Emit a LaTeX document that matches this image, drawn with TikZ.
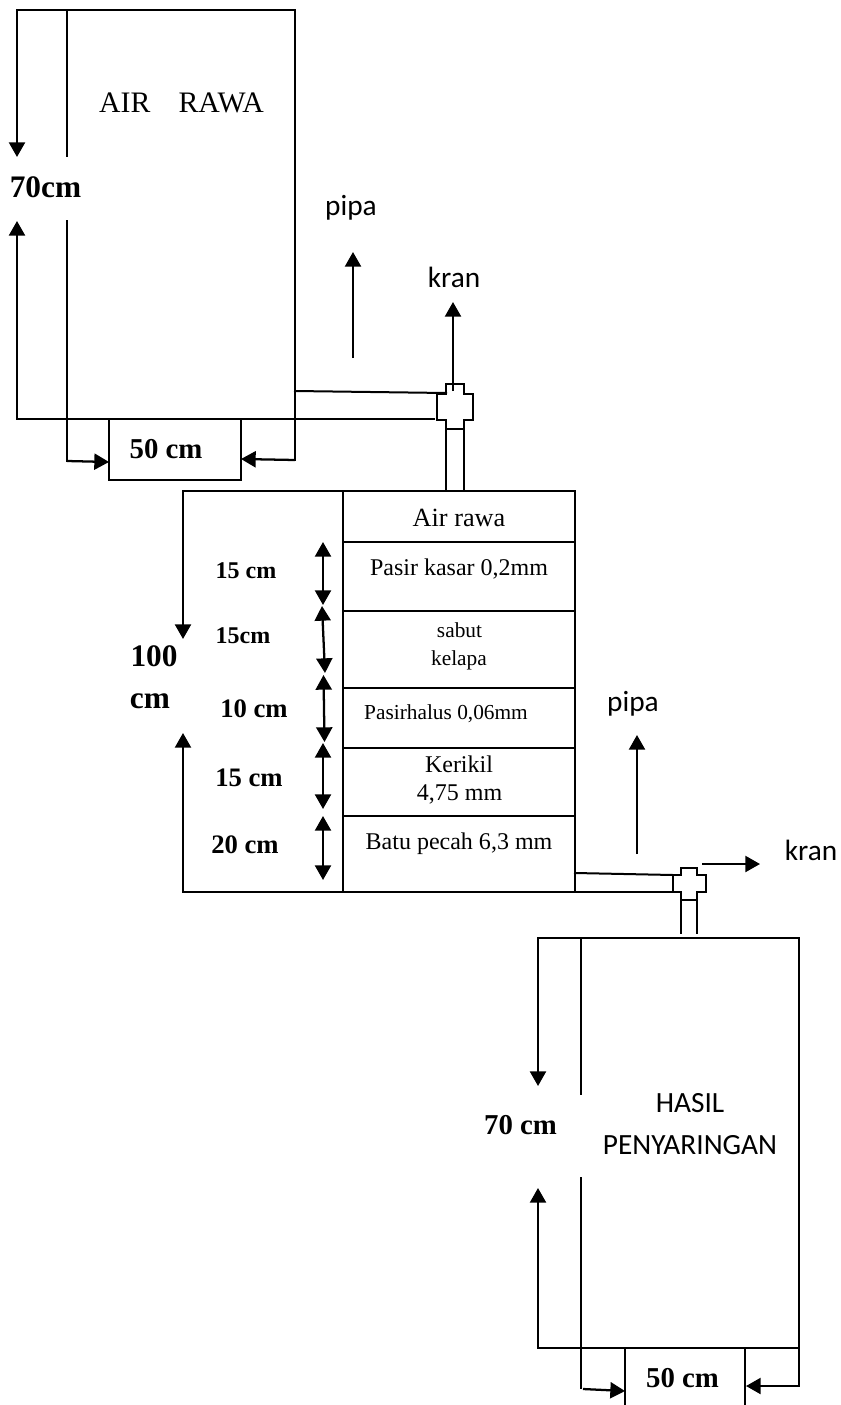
\documentclass[tikz,border=0pt]{standalone}
\usepackage{fontspec}
\setmainfont{Liberation Serif}
\newfontfamily\carlito{Carlito}
\usetikzlibrary{arrows.meta}
\newcommand{\fsz}[1]{\fontsize{#1}{#1}\selectfont}
\tikzset{
  ln/.style={line width=1.5pt,line cap=rect},
  thin ln/.style={line width=1.2pt},
  arr/.style={line width=1.7pt,-{Triangle[length=11pt,width=12pt]}},
  darr/.style={line width=1.7pt,{Triangle[length=11pt,width=12pt]}-{Triangle[length=11pt,width=12pt]}},
  txt/.style={inner sep=0pt,anchor=base},
  sans/.style={txt,font=\carlito\fsz{22}},
  dimA/.style={txt,font=\bfseries\fsz{18}},
  dimB/.style={txt,font=\bfseries\fsz{20}},
  dimC/.style={txt,font=\bfseries\fsz{21.6}},
  dimD/.style={txt,font=\bfseries\fsz{23.5}},
  layA/.style={txt,font=\fsz{18}},
  layB/.style={txt,font=\fsz{16}},
}
\begin{document}
\begin{tikzpicture}[x=0.75pt,y=-0.75pt]
\useasboundingbox (0,0) rectangle (840,1405);
% coordinates
\foreach \n/\x/\y in {
 ta/17/10, tb/67/10, tc/295/10, td/17/419, te/67/419, tf/295/419,
 tg/67/156, th/67/221, ti/17/157, tj/17/221, tk/67/461, tl/109/462, tm/295/460, tn/241/459,
 b1/109/419, b2/241/480,
 p1/295/391, p2/446/393, p3/435/419,
 k1/453/391, k2/453/302, k3/353/358, k4/353/252,
 q1/446/429, q2/446/491, q3/464/429, q4/464/491,
 m1/183/491, m2/343/491, m3/575/491, m4/183/892, m5/343/892, m6/575/892,
 m7/183/639, m8/183/733,
 d1a/323/542, d1b/323/605, d2a/322/606, d2b/325/673, d3a/323.5/675, d3b/324.5/742,
 d4a/323/743, d4b/323/809, d5a/323/816, d5b/323/880,
 r1/575/873, r2/673/875, r3/673/892,
 s1/681/900, s2/681/933, s3/697/900, s4/697/933,
 k5/702/864, k6/760/864, k7/637/854, k8/637/735,
 ba/538/938, bb/581/938, bc/799/938, bd/538/1348, be/581/1348, bf/799/1348,
 bg/581/1094, bh/581/1178, bi/538/1086, bj/538/1188,
 bk/581/1388, bl/583/1389, bm/625/1391, bn/799/1386, bo/746/1386,
 bp/625/1348, bq/625/1405, br/745/1348, bs/745/1405}
 {\coordinate (\n) at (\x,\y);}
% top tank
\draw[ln] (ta) -- (tc) -- (tm);
\draw[ln] (td) -- (tf);
\draw[ln] (tb) -- (tg);
\draw[ln] (th) -- (tk);
\draw[arr] (ta) -- (ti);
\draw[arr] (td) -- (tj);
\draw[ln] (b1) rectangle (b2);
\draw[arr] (tk) -- (tl);
\draw[arr] (tm) -- (tn);
% top pipe and cross
\draw[ln] (p1) -- (p2);
\draw[thin ln] (tf) -- (p3);
\draw[ln] (446,394) -- (446,384) -- (464,384) -- (464,394) -- (473,394) -- (473,420) -- (464,420) -- (464,429) -- (446,429) -- (446,420) -- (437,420) -- (437,394) -- cycle;
\draw[ln] (q1) -- (q2);
\draw[thin ln] (q3) -- (q4);
\draw[arr] (k1) -- (k2);
\draw[arr] (k3) -- (k4);
% filter column
\draw[ln] (m1) -- (m3) -- (m6) -- (m4);
\draw[ln] (m2) -- (m5);
\foreach \y in {542,611,688,748,816} \draw[ln] (343,\y) -- (575,\y);
\draw[arr] (m1) -- (m7);
\draw[arr] (m4) -- (m8);
\foreach \a/\b in {d1a/d1b,d2a/d2b,d3a/d3b,d4a/d4b,d5a/d5b} \draw[darr] (\a) -- (\b);
% lower pipe and cross
\draw[ln] (r1) -- (r2);
\draw[ln] (m6) -- (r3);
\draw[ln] (681,875) -- (681,868) -- (697,868) -- (697,875) -- (706,875) -- (706,892) -- (697,892) -- (697,900) -- (681,900) -- (681,892) -- (673,892) -- (673,875) -- cycle;
\draw[ln] (s1) -- (s2);
\draw[ln] (s3) -- (s4);
\draw[arr] (k5) -- (k6);
\draw[arr] (k7) -- (k8);
% bottom tank
\draw[ln] (ba) -- (bc) -- (bn);
\draw[ln] (bd) -- (bf);
\draw[ln] (bb) -- (bg);
\draw[ln] (bh) -- (bk);
\draw[arr] (ba) -- (bi);
\draw[arr] (bd) -- (bj);
\draw[ln] (bq) -- (bp) -- (br) -- (bs);
\draw[arr] (bl) -- (bm);
\draw[arr] (bn) -- (bo);
% text
\node[txt,font=\fsz{22.3}] (airrawa) at (181.5,113) {AIR\hspace{0.95em}RAWA};
\node[dimD] (h70a) at (45.5,198) {70cm};
\node[sans] (pipa1) at (351,216) {pipa};
\node[sans] (kran1) at (454,287) {kran};
\node[dimC] (w50a) at (166,458) {50 cm};
\node[txt,font=\fsz{19.7}] (l1) at (459,526) {Air rawa};
\node[layA] (l2) at (459,575) {Pasir kasar 0,2mm};
\node[layB] (l3a) at (459.5,637) {sabut};
\node[layB] (l3b) at (459,665) {kelapa};
\node[layB] (l4) at (446,719) {Pasirhalus 0,06mm};
\node[layA] (l5a) at (459,772) {Kerikil};
\node[layA] (l5b) at (459.5,800) {4,75 mm};
\node[layA] (l6) at (459,849) {Batu pecah 6,3 mm};
\node[dimA] (c1) at (246,578) {15 cm};
\node[dimA] (c2) at (243,643) {15cm};
\node[dimB] (c3) at (254,717) {10 cm};
\node[dimB] (c4) at (249,786) {15 cm};
\node[dimB] (c5) at (245,853) {20 cm};
\node[dimD] (h100a) at (154,666) {100};
\node[dimD] (h100b) at (150,708) {cm};
\node[sans] (pipa2) at (633,711) {pipa};
\node[sans] (kran2) at (811,860) {kran};
\node[dimC] (h70b) at (520.5,1134) {70 cm};
\node[sans] (hasil) at (690,1112) {HASIL};
\node[sans] (peny) at (690,1154) {PENYARINGAN};
\node[dimC] (w50b) at (682.5,1387) {50 cm};
\end{tikzpicture}
\end{document}
